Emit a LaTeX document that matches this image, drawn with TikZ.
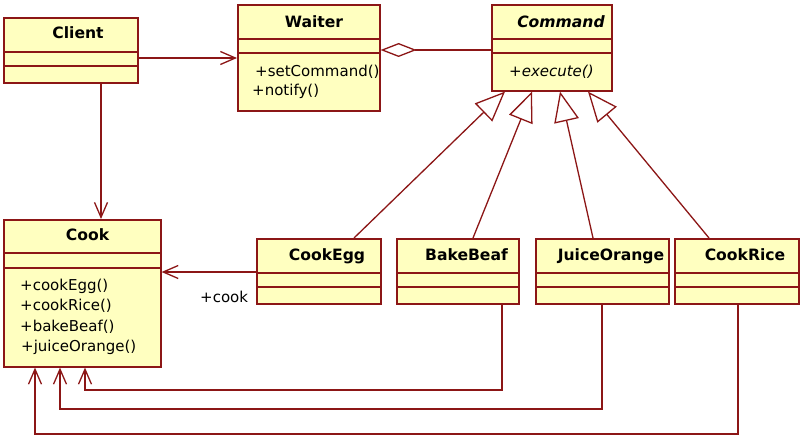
\documentclass[tikz,border=0pt]{standalone}
\usepackage{fontspec}
\setmainfont{DejaVu Sans}
\usetikzlibrary{arrows.meta}
\definecolor{umlline}{RGB}{140,22,22}
\definecolor{umlfill}{RGB}{255,255,192}
\begin{document}
\begin{tikzpicture}[x=1pt,y=-1pt,
  cls/.style={draw=umlline, fill=umlfill, line width=1.6pt, anchor=north west, inner sep=0pt},
  divider/.style={draw=umlline, line width=1.6pt},
  title/.style={font=\fontsize{15.6}{18}\selectfont\bfseries, inner sep=0pt, anchor=base},
  member/.style={font=\fontsize{15}{18}\selectfont, inner sep=0pt, anchor=base west},
  conn/.style={draw=umlline, line width=1.3pt},
  assoc/.style={conn, -{Straight Barb[length=15pt,width=13pt]}},
  gen/.style={conn, -{Triangle[open, length=30pt, width=25pt]}},
  agg/.style={conn, {Diamond[open, length=36pt, width=14pt]}-}
]
\fill[white] (0,0) rectangle (802,436);
\useasboundingbox (0,0) rectangle (802,436);

% classes
\node[cls, minimum width=134, minimum height=65] (client) at (3,17) {};
\draw[divider] (client.west |- 0,52) -- (client.east |- 0,52);
\draw[divider] (client.west |- 0,66) -- (client.east |- 0,66);
\node[title] (clientT) at (78,38.5) {Client};

\node[cls, minimum width=142, minimum height=106] (waiter) at (237,4) {};
\draw[divider] (waiter.west |- 0,39) -- (waiter.east |- 0,39);
\draw[divider] (waiter.west |- 0,53) -- (waiter.east |- 0,53);
\node[title] (waiterT) at (314,27.5) {Waiter};
\node[member] (waiterM1) at (255,76) {+setCommand()};
\node[member] (waiterM2) at (252,95) {+notify()};

\node[cls, minimum width=120, minimum height=86] (command) at (491,4) {};
\draw[divider] (command.west |- 0,39) -- (command.east |- 0,39);
\draw[divider] (command.west |- 0,53) -- (command.east |- 0,53);
\node[title, font=\fontsize{15.6}{18}\selectfont\bfseries\itshape] (commandT) at (561,27.5) {Command};
\node[member, font=\fontsize{15}{18}\selectfont\itshape] (commandM1) at (509,76) {+execute()};

\node[cls, minimum width=157, minimum height=147] (cook) at (3,219) {};
\draw[divider] (cook.west |- 0,253) -- (cook.east |- 0,253);
\draw[divider] (cook.west |- 0,268) -- (cook.east |- 0,268);
\node[title] (cookT) at (87.5,240.5) {Cook};
\node[member] (cookM1) at (20,290) {+cookEgg()};
\node[member] (cookM2) at (20,310.5) {+cookRice()};
\node[member] (cookM3) at (20,331) {+bakeBeaf()};
\node[member] (cookM4) at (21,351.5) {+juiceOrange()};

\node[cls, minimum width=124, minimum height=65] (cookegg) at (256,238) {};
\draw[divider] (cookegg.west |- 0,273) -- (cookegg.east |- 0,273);
\draw[divider] (cookegg.west |- 0,287) -- (cookegg.east |- 0,287);
\node[title] (cookeggT) at (327,260.5) {CookEgg};

\node[cls, minimum width=122, minimum height=65] (bakebeaf) at (396,238) {};
\draw[divider] (bakebeaf.west |- 0,273) -- (bakebeaf.east |- 0,273);
\draw[divider] (bakebeaf.west |- 0,287) -- (bakebeaf.east |- 0,287);
\node[title] (bakebeafT) at (466.5,260.5) {BakeBeaf};

\node[cls, minimum width=133, minimum height=65] (juiceorange) at (535,238) {};
\draw[divider] (juiceorange.west |- 0,273) -- (juiceorange.east |- 0,273);
\draw[divider] (juiceorange.west |- 0,287) -- (juiceorange.east |- 0,287);
\node[title] (juiceorangeT) at (611,260.5) {JuiceOrange};

\node[cls, minimum width=124, minimum height=65] (cookrice) at (674,238) {};
\draw[divider] (cookrice.west |- 0,273) -- (cookrice.east |- 0,273);
\draw[divider] (cookrice.west |- 0,287) -- (cookrice.east |- 0,287);
\node[title] (cookriceT) at (745,260.5) {CookRice};

% connectors
\draw[assoc] (client.east |- 0,58) -- (waiter.west |- 0,58);
\draw[assoc] (client.south -| 101,0) -- (cook.north -| 101,0);
\draw[agg] (waiter.east |- 0,50) -- (command.west |- 0,50);

\draw[gen] (cookegg.north -| 354,0) -- (command.south -| 505,0);
\draw[gen] (bakebeaf.north -| 473,0) -- (command.south -| 532,0);
\draw[gen] (juiceorange.north -| 593,0) -- (command.south -| 560,0);
\draw[gen] (cookrice.north -| 709,0) -- (command.south -| 588,0);

\draw[assoc] (cookegg.west |- 0,272) -- (cook.east |- 0,272);
\node[member] (cooklabel) at (200,302.5) {+cook};

\draw[assoc] (bakebeaf.south -| 502,0) -- (502,390) -- (85,390) -- (cook.south -| 85,0);
\draw[assoc] (juiceorange.south -| 602,0) -- (602,409) -- (60,409) -- (cook.south -| 60,0);
\draw[assoc] (cookrice.south -| 738,0) -- (738,434) -- (35,434) -- (cook.south -| 35,0);
\end{tikzpicture}
\end{document}
